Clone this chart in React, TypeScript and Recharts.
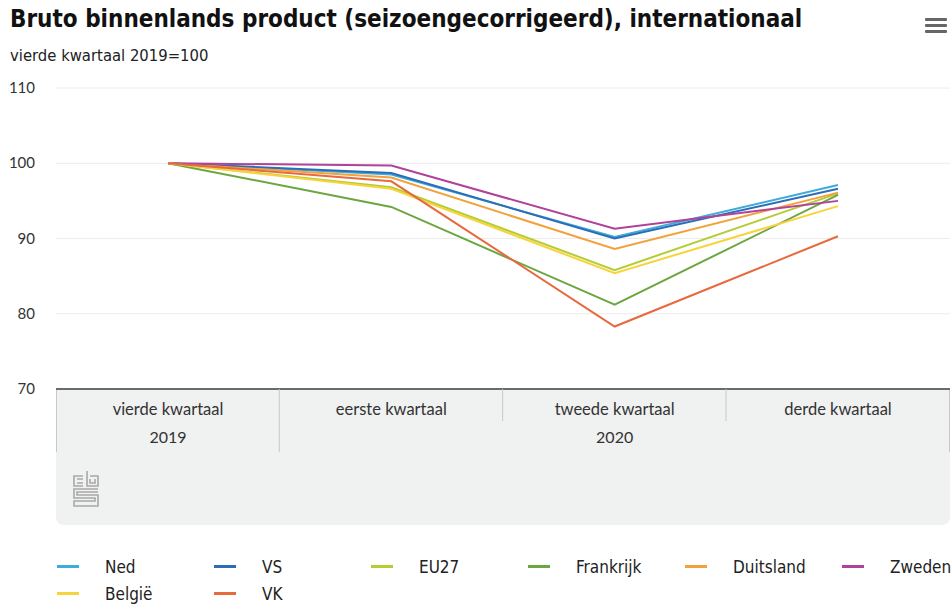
import { LineChart, Line, XAxis, YAxis, CartesianGrid, Legend } from "recharts"

const quarters = ["vierde kwartaal", "eerste kwartaal", "tweede kwartaal", "derde kwartaal"]
const years = ["2019", "2020", "2020", "2020"]

const ned = [100, 98.5, 90.2, 97.1]
const vs = [100, 98.7, 90.0, 96.6]
const eu27 = [100, 96.8, 85.8, 96.0]
const frankrijk = [100, 94.2, 81.2, 95.8]
const duitsland = [100, 98.1, 88.6, 96.1]
const zweden = [100, 99.7, 91.3, 95.0]
const belgie = [100, 96.6, 85.4, 94.3]
const vk = [100, 97.6, 78.3, 90.3]

const yTicks = [70, 80, 90, 100, 110]

const series = [
  { key: "Ned", values: ned, color: "#3fabd9" },
  { key: "VS", values: vs, color: "#2c6db8" },
  { key: "EU27", values: eu27, color: "#b3cd34" },
  { key: "Frankrijk", values: frankrijk, color: "#6ba63f" },
  { key: "Duitsland", values: duitsland, color: "#f3a13b" },
  { key: "Zweden", values: zweden, color: "#b0429a" },
  { key: "België", values: belgie, color: "#f8d33c" },
  { key: "VK", values: vk, color: "#e8693d" }
]

const data = quarters.map((q, i) => {
  const row: Record<string, any> = { quarter: q, year: years[i] }
  series.forEach(s => { row[s.key] = s.values[i] })
  return row
})

const narrow = "'Liberation Sans Narrow', 'DejaVu Sans Condensed', sans-serif"
const axisFont = "Lato, 'Noto Sans', sans-serif"
const BAND = 224

const QuarterTick = (props: any) => {
  const { x, y, payload, index } = props
  return (
    <g>
      {index > 0 && (
        <line
          x1={x - BAND / 2}
          x2={x - BAND / 2}
          y1={y - 8}
          y2={index === 1 ? y + 55 : y + 24}
          stroke="#c8c8c8"
        />
      )}
      <text x={x} y={y + 18} textAnchor="middle" fontSize={16.5} fill="#333" fontFamily={axisFont}>
        {payload.value}
      </text>
    </g>
  )
}

const YearTick = (props: any) => {
  const { x, y, payload, index } = props
  if (index !== 0 && index !== 2) return <g />
  return (
    <text x={x} y={y + 14} textAnchor="middle" fontSize={16} fill="#333" fontFamily={axisFont}>
      {payload.value}
    </text>
  )
}

const ValueTick = (props: any) => {
  const { y, payload } = props
  return (
    <text x={35} y={y + 5} textAnchor="end" fontSize={15} fill="#333" fontFamily={axisFont}>
      {payload.value}
    </text>
  )
}

const LegendBox = () => (
  <div style={{ display: "grid", gridTemplateColumns: "repeat(6, 157px)", rowGap: 8 }}>
    {series.map(s => (
      <div key={s.key} style={{ display: "flex", alignItems: "center", height: 19, whiteSpace: "nowrap" }}>
        <span style={{ width: 22, height: 3, background: s.color, marginRight: 26, display: "inline-block", flex: "none" }} />
        <span style={{ fontFamily: narrow, fontSize: 17, color: "#222" }}>{s.key}</span>
      </div>
    ))}
  </div>
)

export default function App() {
  return (
    <div style={{ position: "absolute", left: 0, top: 0, width: 951, height: 604, background: "#fff", overflow: "hidden" }}>
      {/* titel */}
      <div style={{ position: "absolute", left: 10, top: 5, fontFamily: narrow, fontWeight: 700, fontSize: 24, color: "#111", whiteSpace: "nowrap" }}>
        Bruto binnenlands product (seizoengecorrigeerd), internationaal
      </div>
      <div style={{ position: "absolute", left: 10, top: 46, fontFamily: narrow, fontSize: 16.5, color: "#222" }}>
        vierde kwartaal 2019=100
      </div>

      {/* menu */}
      <div style={{ position: "absolute", left: 925, top: 18, width: 22 }}>
        {[0, 1, 2].map(i => (
          <div key={i} style={{ height: 3, background: "#666", marginBottom: 3, borderRadius: 1 }} />
        ))}
      </div>

      {/* grijs vlak onder de as */}
      <div
        style={{
          position: "absolute",
          left: 56,
          top: 389,
          width: 894,
          height: 136,
          background: "#f0f1f1",
          borderRadius: "0 0 8px 8px"
        }}
      />
      <div style={{ position: "absolute", left: 56, top: 389, width: 1, height: 63, background: "#c8c8c8" }} />
      <div style={{ position: "absolute", left: 949, top: 389, width: 1, height: 63, background: "#c8c8c8" }} />

      {/* cbs logo */}
      <svg style={{ position: "absolute", left: 72, top: 469 }} width={28} height={40} viewBox="0 0 28 40">
        <g fill="none" stroke="#a8a8a8" strokeWidth={1.6}>
          <path d="M11 7 H2 V17 H11 M5 10 H11 M5 14 H11" />
          <path d="M15 2 V17 H26 V7 H18 M18 10 V14 H23 V10" />
          <path d="M26 20 H2 V29 H23 V32 H2 V37 H26 V26 H5 V23 H26" />
        </g>
      </svg>

      <div style={{ position: "absolute", left: 0, top: 0 }}>
        <LineChart width={951} height={604} data={data} margin={{ top: 88, right: 1, left: 0, bottom: 152 }}>
          <CartesianGrid vertical={false} stroke="#ececec" />
          <YAxis
            domain={[70, 110]}
            ticks={yTicks}
            width={56}
            axisLine={false}
            tickLine={false}
            tick={<ValueTick />}
            interval={0}
          />
          <XAxis
            dataKey="quarter"
            padding={{ left: 112, right: 112 }}
            height={32}
            axisLine={{ stroke: "#6b6b6b", strokeWidth: 2 }}
            tickLine={false}
            tick={<QuarterTick />}
            interval={0}
          />
          <XAxis
            dataKey="year"
            xAxisId="year"
            padding={{ left: 112, right: 112 }}
            height={31}
            axisLine={false}
            tickLine={false}
            tick={<YearTick />}
            interval={0}
            allowDuplicatedCategory
          />
          <Legend
            verticalAlign="middle"
            align="center"
            wrapperStyle={{ position: "absolute", top: 557, left: 57, width: 942 }}
            content={<LegendBox />}
          />
          {series.map(s => (
            <Line
              key={s.key}
              type="linear"
              dataKey={s.key}
              stroke={s.color}
              strokeWidth={2}
              dot={false}
              activeDot={false}
              isAnimationActive={false}
            />
          ))}
        </LineChart>
      </div>
    </div>
  )
}
